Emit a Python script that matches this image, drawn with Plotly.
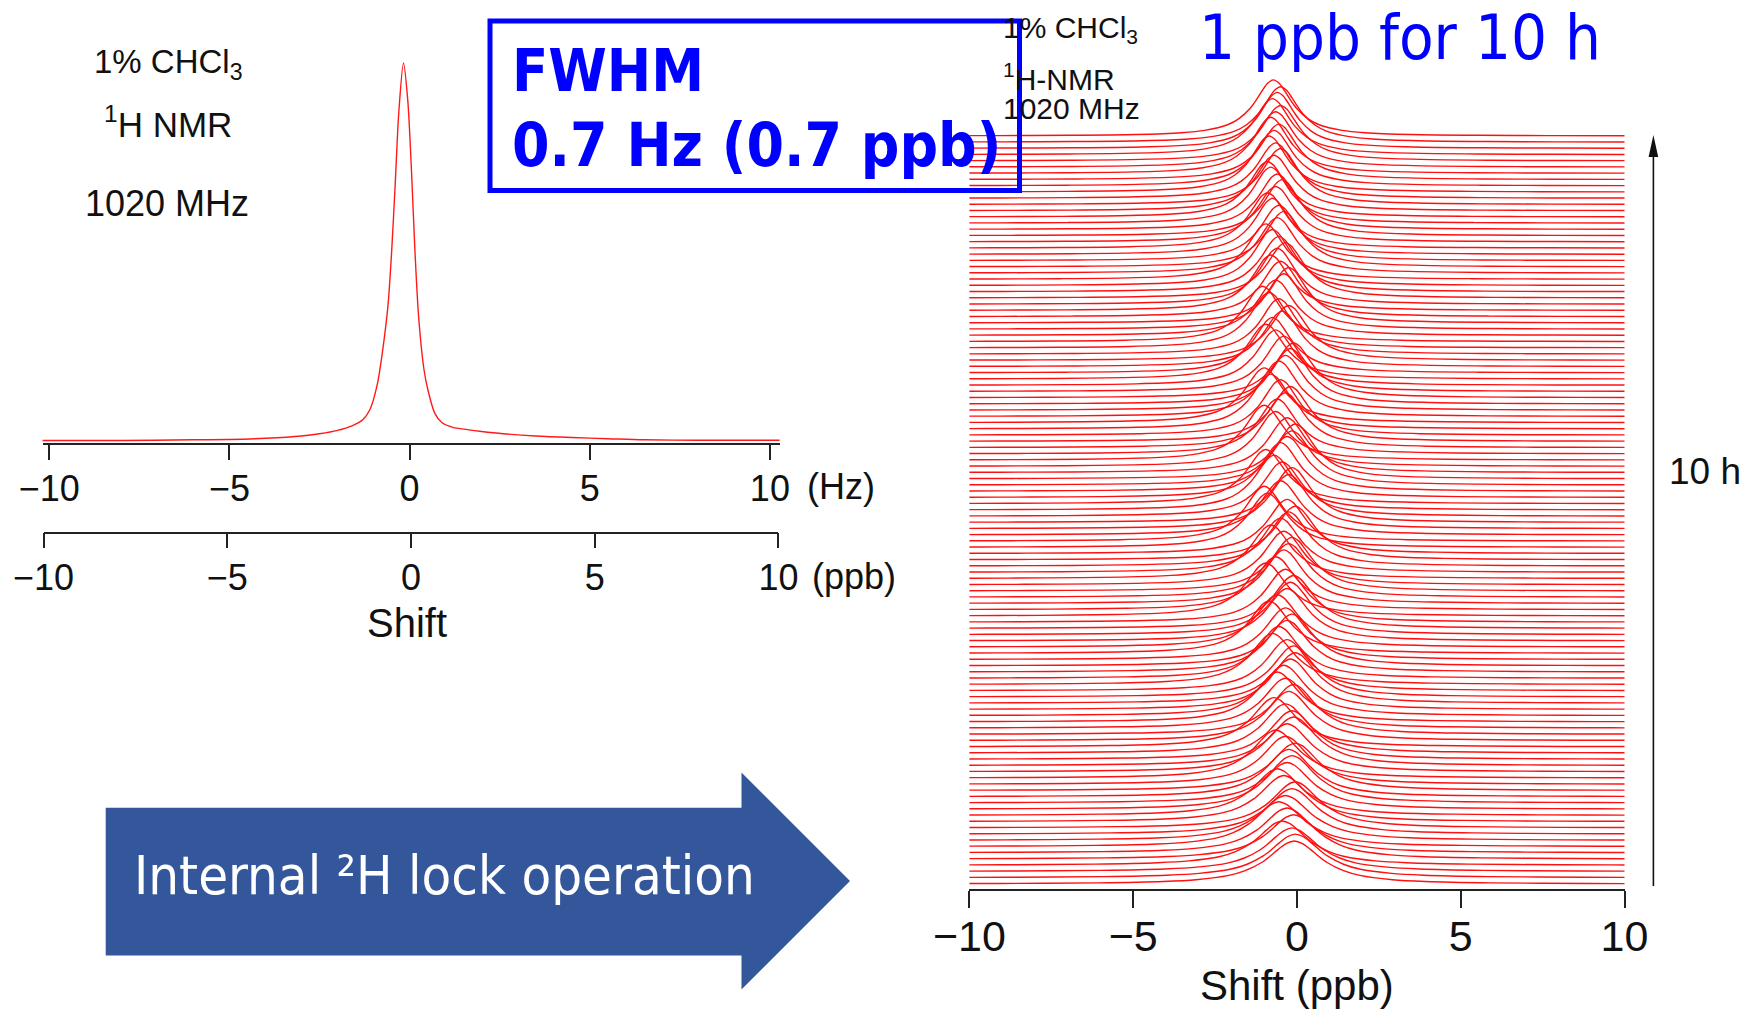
import plotly.graph_objects as go

# page is rendered with an 8 px body margin; the figure is sized so that it fits
OFF = 8
W, H = 1748 - OFF, 1011 - OFF

# ---------------- data ----------------
# Left: single 1H spectrum of 1% CHCl3 (shift in Hz, relative intensity)
LEFT_HZ = [-10.2, -8.0, -6.0, -5.0, -4.0, -3.0, -2.5, -2.0, -1.6, -1.3, -1.1, -0.9,
           -0.75, -0.6, -0.5, -0.4, -0.3, -0.17, -0.05, 0.05, 0.15, 0.25, 0.4, 0.5,
           0.7, 0.9, 1.2, 1.6, 2.0, 2.6, 3.5, 4.5, 5.5, 6.5, 8.0, 10.3]
LEFT_INT = [0.003, 0.003, 0.005, 0.006, 0.009, 0.015, 0.021, 0.030, 0.042, 0.058, 0.085, 0.15,
            0.24, 0.36, 0.50, 0.68, 0.87, 1.00, 0.90, 0.72, 0.50, 0.33, 0.19, 0.14,
            0.075, 0.050, 0.038, 0.032, 0.027, 0.021, 0.015, 0.011, 0.008, 0.005, 0.004, 0.004]

# Right: stacked spectra over 10 h (121 spectra).
# common line shape: offset in units of half-width, relative intensity
SHAPE_U = [-16, -12, -9, -6, -4, -3, -2, -1.5, -1, -0.75, -0.5, -0.25, 0,
           0.25, 0.5, 0.75, 1, 1.5, 2, 3, 4, 6, 9, 12, 16]
SHAPE_I = [0.004, 0.007, 0.012, 0.027, 0.059, 0.10, 0.20, 0.31, 0.50, 0.64, 0.80, 0.94, 1.0,
           0.94, 0.80, 0.64, 0.50, 0.31, 0.20, 0.10, 0.059, 0.027, 0.012, 0.007, 0.004]
# per spectrum, bottom (t = 0) to top (t = 10 h): peak centre (ppb)
STACK_CENTER = [
    -0.08, -0.05, -0.15, -0.45, -0.10, -0.30, -0.55, -0.35, -0.15, -0.05,
    -0.40, -0.60, -0.30, -0.15, -0.25, -0.05, -0.35, -0.65, -0.30, -0.10,
    -0.15, -0.35, -0.70, -0.25, -0.10, -0.35, -0.60, -0.40, -0.20, -0.05,
    -0.10, -0.30, -0.75, -0.55, -0.30, -0.15, -0.35, -0.85, -0.60, -0.30,
    -0.20, -0.10, -0.35, -0.95, -0.65, -0.40, -0.25, -0.15, -0.40, -0.80,
    -0.50, -0.25, -0.05, -0.30, -0.90, -1.00, -0.50, -0.25, -0.15, -0.45,
    -0.70, -0.95, -0.50, -0.30, -0.15, -0.05, -0.30, -0.65, -1.00, -0.60,
    -0.35, -0.20, -0.50, -0.80, -1.00, -0.55, -0.35, -0.20, -0.10, -0.40,
    -0.65, -0.95, -0.75, -0.45, -0.25, -0.55, -0.85, -1.05, -0.65, -0.40,
    -0.25, -0.50, -0.80, -0.60, -0.35, -0.55, -0.75, -0.95, -0.60, -0.40,
    -0.55, -0.75, -0.90, -0.65, -0.45, -0.60, -0.80, -0.90, -0.70, -0.50,
    -0.65, -0.85, -0.70, -0.55, -0.80, -0.65, -0.50, -0.75, -0.60, -0.50,
    -0.72]
# half width at half maximum (ppb)
STACK_HWHM = [
    1.00, 0.98, 0.97, 0.95, 0.96, 0.94, 0.93, 0.95, 0.92, 0.90,
    0.91, 0.89, 0.90, 0.88, 0.87, 0.89, 0.86, 0.85, 0.87, 0.86,
    0.84, 0.85, 0.83, 0.84, 0.82, 0.83, 0.81, 0.82, 0.80, 0.81,
    0.80, 0.79, 0.81, 0.78, 0.80, 0.79, 0.78, 0.77, 0.79, 0.78,
    0.77, 0.78, 0.76, 0.77, 0.76, 0.75, 0.77, 0.76, 0.75, 0.76,
    0.75, 0.74, 0.76, 0.75, 0.74, 0.73, 0.75, 0.74, 0.73, 0.74,
    0.73, 0.74, 0.72, 0.73, 0.74, 0.72, 0.73, 0.72, 0.73, 0.72,
    0.72, 0.73, 0.71, 0.72, 0.73, 0.71, 0.72, 0.71, 0.72, 0.71,
    0.71, 0.72, 0.70, 0.71, 0.72, 0.70, 0.71, 0.70, 0.71, 0.70,
    0.70, 0.71, 0.70, 0.69, 0.71, 0.70, 0.69, 0.70, 0.71, 0.70,
    0.70, 0.69, 0.70, 0.71, 0.69, 0.70, 0.69, 0.70, 0.70, 0.69,
    0.70, 0.69, 0.70, 0.70, 0.69, 0.70, 0.71, 0.70, 0.69, 0.70,
    0.70]
# peak height (in units of the spacing between spectra)
STACK_HEIGHT = [
    6.9, 7.0, 7.0, 7.1, 7.1, 7.2, 7.2, 7.2, 7.3, 7.4,
    7.4, 7.5, 7.5, 7.6, 7.6, 7.6, 7.7, 7.7, 7.7, 7.8,
    7.8, 7.9, 7.9, 7.9, 8.0, 8.0, 8.0, 8.1, 8.1, 8.1,
    8.2, 8.2, 8.2, 8.3, 8.3, 8.3, 8.3, 8.4, 8.4, 8.4,
    8.4, 8.5, 8.5, 8.5, 8.5, 8.6, 8.6, 8.6, 8.6, 8.6,
    8.7, 8.7, 8.6, 8.7, 8.7, 8.8, 8.7, 8.7, 8.8, 8.7,
    8.8, 8.7, 8.8, 8.8, 8.7, 8.8, 8.8, 8.8, 8.8, 8.8,
    8.8, 8.8, 8.9, 8.8, 8.8, 8.9, 8.8, 8.9, 8.8, 8.9,
    8.9, 8.8, 8.9, 8.9, 8.8, 8.9, 8.9, 8.9, 8.9, 8.9,
    8.9, 8.9, 8.9, 9.0, 8.9, 8.9, 9.0, 8.9, 8.9, 8.9,
    8.9, 9.0, 8.9, 8.9, 9.0, 8.9, 9.0, 8.9, 8.9, 9.0,
    8.9, 9.0, 8.9, 8.9, 9.0, 8.9, 8.9, 9.0, 9.0, 8.9,
    9.0]

TICKS = [-10, -5, 0, 5, 10]
TICK_TEXT = ["\u221210", "\u22125", "0", "5", "10"]


def fx(p):
    return (p - OFF) / W


def fy(p):
    return 1 - (p - OFF) / H


fig = go.Figure()

# left spectrum
fig.add_trace(go.Scatter(x=LEFT_HZ, y=LEFT_INT, mode="lines", xaxis="x", yaxis="y",
                         line=dict(color="#ff1a1a", width=1.4, shape="spline", smoothing=0.8),
                         hoverinfo="skip"))
# dummy trace so that the ppb axis is drawn
fig.add_trace(go.Scatter(x=[0], y=[0.5], mode="markers", xaxis="x2", yaxis="y2",
                         marker=dict(opacity=0), hoverinfo="skip"))
# stacked spectra
for i, (c, w, h) in enumerate(zip(STACK_CENTER, STACK_HWHM, STACK_HEIGHT)):
    xs = [c + u * w for u in SHAPE_U]
    ys = [i + h * s for s in SHAPE_I]
    fig.add_trace(go.Scatter(x=xs, y=ys, mode="lines", xaxis="x3", yaxis="y3",
                             line=dict(color="#ff1010", width=1.4, shape="spline", smoothing=0.8),
                             hoverinfo="skip"))

axis_common = dict(showgrid=False, zeroline=False, showline=True, linecolor="#222",
                   linewidth=1.5, ticks="outside", tickcolor="#222", tickwidth=1.5,
                   tickvals=TICKS, ticktext=TICK_TEXT, automargin=False)

LBL = "Liberation Sans, Arial, sans-serif"
COND = "DejaVu Sans Condensed, DejaVu Sans, sans-serif"

fig.update_layout(
    width=W, height=H, autosize=False,
    margin=dict(l=0, r=0, t=0, b=0),
    paper_bgcolor="white", plot_bgcolor="rgba(0,0,0,0)",
    showlegend=False,
    xaxis=dict(domain=[fx(42.5), fx(779.6)], range=[-10.19, 10.27], anchor="y",
               ticklen=15, ticklabelstandoff=-2,
               tickfont=dict(family=LBL, size=36, color="#111"), **axis_common),
    yaxis=dict(domain=[fy(443.3), fy(40)], range=[-0.0042, 1.0607], visible=False),
    xaxis2=dict(domain=[fx(43.6), fx(778.4)], range=[-10, 10], anchor="y2",
                ticklen=15, ticklabelstandoff=-2,
                tickfont=dict(family=LBL, size=36, color="#111"), **axis_common),
    yaxis2=dict(domain=[fy(531.7), fy(520)], range=[0, 1], visible=False),
    xaxis3=dict(domain=[fx(969.4), fx(1624.5)], range=[-10, 10], anchor="y3",
                ticklen=17, ticklabelstandoff=-9,
                tickfont=dict(family=LBL, size=43, color="#111"), **axis_common),
    yaxis3=dict(domain=[fy(889.3), fy(60)], range=[-0.85, 132.19], visible=False),
)

shapes = []
# FWHM box
shapes.append(dict(type="rect", xref="paper", yref="paper",
                   x0=fx(490), x1=fx(1019.5), y0=fy(190.5), y1=fy(21),
                   line=dict(color="#0000ff", width=5), fillcolor="rgba(0,0,0,0)"))
# big blue arrow
pts = [(105.7, 807.7), (741.5, 807.7), (741.5, 772.6), (850, 881), (741.5, 989.5),
       (741.5, 955.6), (105.7, 955.6)]
path = "M " + " L ".join(f"{fx(a):.5f},{fy(b):.5f}" for a, b in pts) + " Z"
shapes.append(dict(type="path", xref="paper", yref="paper", path=path,
                   fillcolor="#34579b", line=dict(width=0)))
# vertical time arrow
shapes.append(dict(type="line", xref="paper", yref="paper",
                   x0=fx(1653.4), x1=fx(1653.4), y0=fy(886), y1=fy(150),
                   line=dict(color="#111", width=1.6)))
head = [(1648.6, 157), (1653.4, 135), (1658.2, 157)]
hpath = "M " + " L ".join(f"{fx(a):.5f},{fy(b):.5f}" for a, b in head) + " Z"
shapes.append(dict(type="path", xref="paper", yref="paper", path=hpath,
                   fillcolor="#111", line=dict(width=0)))
fig.update_layout(shapes=shapes)


def ann(text, x, y, size, family=LBL, color="#111", xanchor="center", yanchor="middle"):
    fig.add_annotation(text=text, x=fx(x), y=fy(y), xref="paper", yref="paper",
                       showarrow=False, xanchor=xanchor, yanchor=yanchor,
                       font=dict(family=family, size=size, color=color))


# left texts
ann("1% CHCl<sub>3</sub>", 168, 64, 33)
ann("<sup>1</sup>H NMR", 168, 122, 35)
ann("1020 MHz", 167, 204, 36)
ann("(Hz)", 841, 486, 36)
ann("(ppb)", 854, 576, 36)
ann("Shift", 407, 623, 40)
# right texts
ann("1% CHCl<sub>3</sub>", 1001, 29, 30, xanchor="left")
ann("<sup>1</sup>H\u2010NMR", 1001, 77, 30, xanchor="left")
ann("1020 MHz", 1001, 109, 30, xanchor="left")
ann("Shift (ppb)", 1297, 985, 42)
ann("10 h", 1667, 471, 37, xanchor="left")
# blue texts
ann("<b>FWHM</b>", 510, 71, 59, family=COND, color="#0000ff", xanchor="left")
ann("<b>0.7 Hz (0.7 ppb)</b>", 510, 145, 60, family=COND, color="#0000ff", xanchor="left")
ann("1 ppb for 10 h", 1400, 38, 63, family=COND, color="#0000ff")
ann("Internal \u00b2H lock operation", 132, 875, 54, family=COND, color="white",
    xanchor="left")

fig.write_html("out.html")
